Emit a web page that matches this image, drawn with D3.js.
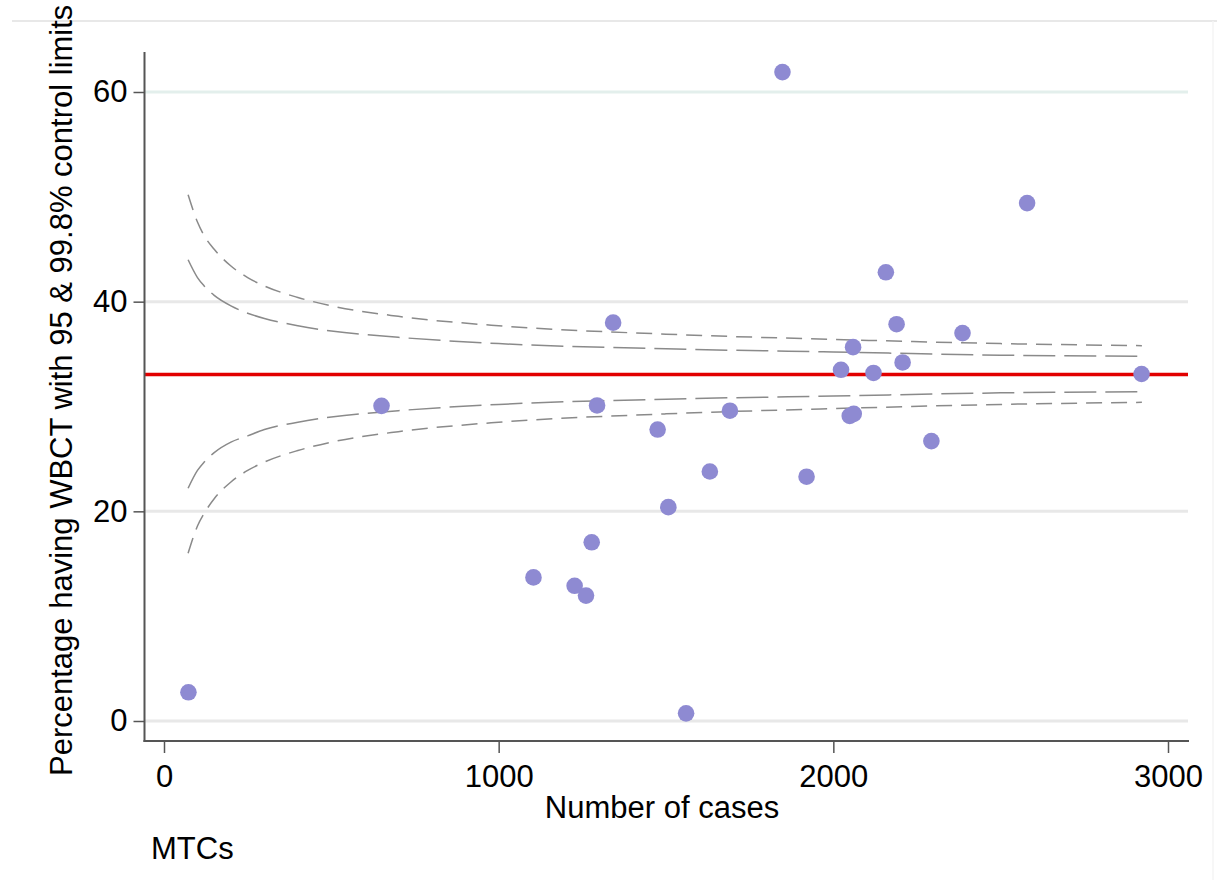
<!DOCTYPE html>
<html>
<head>
<meta charset="utf-8">
<script src="https://cdn.jsdelivr.net/npm/d3@7"></script>
<style>
  body { margin: 0; background: #fff; }
  text { font-family: "Liberation Sans", Arial, sans-serif; fill: #000; }
</style>
</head>
<body>
<svg id="chart"></svg>
<script>
const width = 1217;
const height = 893;

// points: number of cases vs percentage having WBCT
const cases = [73, 650, 1104, 1227, 1261, 1278, 1294, 1342, 1475, 1507, 1560, 1631, 1691, 1848,
  1920, 2023, 2049, 2059, 2061, 2120, 2157, 2189, 2207, 2293, 2386, 2579, 2921];
const pct = [2.74, 30.06, 13.7, 12.9, 11.96, 17.05, 30.1, 38.0, 27.8, 20.4, 0.73, 23.8, 29.6, 61.9,
  23.3, 33.5, 29.1, 35.66, 29.3, 33.2, 42.8, 37.85, 34.2, 26.7, 37.0, 49.4, 33.1];

const overall = 33.05;

// control limits read along the funnel
const limitCases = [72, 100, 120, 150, 200, 250, 300, 400, 500, 700, 1000, 1500, 2000, 2500, 2922];
const upper998 = [50.2, 47.6, 46.3, 45.0, 43.4, 42.3, 41.5, 40.4, 39.6, 38.6, 37.7, 36.9, 36.4, 36.0, 35.8];
const upper95 = [44.0, 42.3, 41.5, 40.6, 39.6, 38.9, 38.4, 37.7, 37.2, 36.6, 36.0, 35.5, 35.2, 34.9, 34.8];
const lower95 = [22.2, 23.9, 24.7, 25.6, 26.6, 27.2, 27.8, 28.5, 29.0, 29.6, 30.2, 30.7, 31.0, 31.3, 31.4];
const lower998 = [16.0, 18.6, 19.8, 21.2, 22.8, 23.9, 24.7, 25.8, 26.6, 27.6, 28.5, 29.3, 29.8, 30.2, 30.4];

const xTicks = [0, 1000, 2000, 3000];
const yTicks = [0, 20, 40, 60];

const fontSize = 31;

const svg = d3.select('#chart')
  .attr('width', width)
  .attr('height', height);

const x = d3.scaleLinear().domain([0, 3000]).range([164, 1168]);
const y = d3.scaleLinear().domain([0, 60]).range([721, 92]);

const plotLeft = 144.5, plotRight = 1188, plotTop = 52, plotBottom = 741;

// outer frame line at top
svg.append('line')
  .attr('x1', 12).attr('x2', width)
  .attr('y1', 21).attr('y2', 21)
  .attr('stroke', '#e8e8e8').attr('stroke-width', 2);
svg.append('line')
  .attr('x1', 1213).attr('x2', 1213)
  .attr('y1', 21).attr('y2', 880)
  .attr('stroke', '#f4f4f4').attr('stroke-width', 1.5);

// grid
svg.append('g')
  .selectAll('line')
  .data(yTicks)
  .enter()
  .append('line')
  .attr('x1', plotLeft).attr('x2', plotRight)
  .attr('y1', (d) => y(d)).attr('y2', (d) => y(d))
  .attr('stroke', (d) => d === 60 ? '#e3efec' : '#e8e8e8')
  .attr('stroke-width', 3);

// mean line
svg.append('line')
  .attr('x1', plotLeft).attr('x2', plotRight)
  .attr('y1', y(overall)).attr('y2', y(overall))
  .attr('stroke', '#e20000')
  .attr('stroke-width', 3.5);

// control limits
const limitLine = (vals) => d3.line()
  .x((d, i) => x(limitCases[i]))
  .y((d) => y(d))
  .curve(d3.curveMonotoneX)(vals);

const limits = [
  { vals: upper998, dash: '16,9' },
  { vals: upper95, dash: '32,9' },
  { vals: lower95, dash: '32,9' },
  { vals: lower998, dash: '16,9' }
];

svg.append('g')
  .selectAll('path')
  .data(limits)
  .enter()
  .append('path')
  .attr('d', (d) => limitLine(d.vals))
  .attr('fill', 'none')
  .attr('stroke', '#8a8a8a')
  .attr('stroke-width', 1.5)
  .attr('stroke-dasharray', (d) => d.dash);

// axes
const yAxis = svg.append('g')
  .attr('transform', `translate(${plotLeft},0)`)
  .call(d3.axisLeft(y).tickValues(yTicks).tickSize(11).tickPadding(6));
const xAxis = svg.append('g')
  .attr('transform', `translate(0,${plotBottom})`)
  .call(d3.axisBottom(x).tickValues(xTicks).tickFormat(d3.format('d')).tickSize(12).tickPadding(12));

[yAxis, xAxis].forEach((g) => {
  g.select('.domain').remove();
  g.selectAll('line').attr('stroke', '#555').attr('stroke-width', 1.5);
  g.selectAll('text').attr('font-size', fontSize).attr('fill', '#000')
    .style('font-family', '"Liberation Sans", Arial, sans-serif');
});

svg.append('line')
  .attr('x1', plotLeft).attr('x2', plotLeft)
  .attr('y1', plotTop).attr('y2', plotBottom + 1)
  .attr('stroke', '#555').attr('stroke-width', 2);
svg.append('line')
  .attr('x1', plotLeft - 1).attr('x2', plotRight + 1)
  .attr('y1', plotBottom).attr('y2', plotBottom)
  .attr('stroke', '#555').attr('stroke-width', 2);

// points
svg.append('g')
  .selectAll('circle')
  .data(cases)
  .enter()
  .append('circle')
  .attr('cx', (d) => x(d))
  .attr('cy', (d, i) => y(pct[i]))
  .attr('r', 8.3)
  .attr('fill', '#8e8ad2');

// titles
svg.append('text')
  .attr('x', 662).attr('y', 818)
  .attr('text-anchor', 'middle')
  .attr('font-size', fontSize)
  .text('Number of cases');

svg.append('text')
  .attr('transform', 'translate(72,776) rotate(-90)')
  .attr('text-anchor', 'start')
  .attr('font-size', fontSize)
  .text('Percentage having WBCT with 95 & 99.8% control limits');

svg.append('text')
  .attr('x', 151).attr('y', 859)
  .attr('font-size', fontSize)
  .text('MTCs');
</script>
</body>
</html>
